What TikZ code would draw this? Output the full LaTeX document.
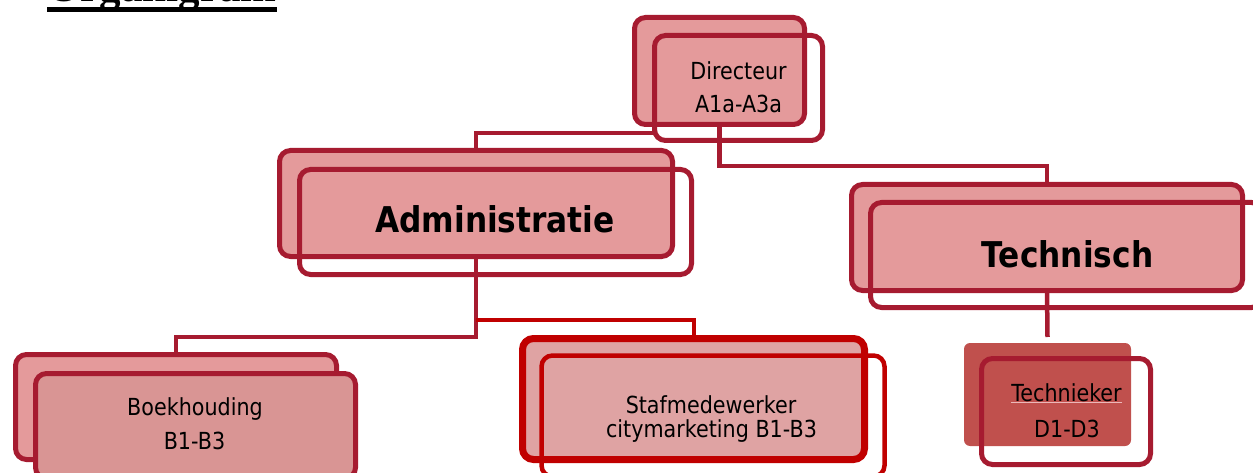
\documentclass[tikz,border=0pt]{standalone}
\usepackage{fontspec}
\setmainfont{DejaVu Sans}[FakeStretch=0.88]
\newfontfamily\titlefont{Liberation Serif}
\usetikzlibrary{calc}
\definecolor{crim}{RGB}{166,27,48}
\definecolor{pinkA}{RGB}{228,154,155}
\definecolor{pinkB}{RGB}{217,149,148}
\definecolor{pinkC}{RGB}{223,163,163}
\definecolor{redS}{RGB}{192,0,0}
\definecolor{tkfill}{RGB}{192,80,77}
\begin{document}
\begin{tikzpicture}[x=1pt,y=-1pt,
  box/.style={rectangle, rounded corners=11pt, draw=crim, line width=5pt, outer sep=0pt, inner sep=0pt},
  conn/.style={draw=crim, line width=4.5pt},
  connred/.style={draw=redS, line width=4pt},
  txt/.style={anchor=base, inner sep=0pt, font=\fontsize{23.5}{28}\selectfont},
  txtbig/.style={anchor=base, inner sep=0pt, font=\bfseries\fontsize{35.5}{42}\selectfont}]
\useasboundingbox (0,0) rectangle (1253,473);
\clip (0,0) rectangle (1253,473);
% title
\node[anchor=base west, inner sep=0pt, font=\titlefont\bfseries\fontsize{43}{50}\selectfont] (title) at (47,2) {Organigram};
\draw[line width=4.5pt] ([yshift=-7.5pt]title.base west) -- ([yshift=-7.5pt]title.base east);
% boxes
\node[box, fill=pinkA, minimum width=170pt, minimum height=107pt] (dirB) at (719.5,71) {};
\node[box, minimum width=168pt, minimum height=105pt] (dirF) at (738.5,88) {};
\node[box, fill=pinkA, minimum width=393pt, minimum height=106pt] (admB) at (476,203.5) {};
\node[box, minimum width=392pt, minimum height=105pt] (admF) at (495.5,222) {};
\node[box, fill=pinkA, minimum width=391pt, minimum height=106pt] (tecB) at (1047,237.5) {};
\node[box, minimum width=392pt, minimum height=105pt] (tecF) at (1066.5,255) {};
\node[box, fill=pinkA, minimum width=321pt, minimum height=105pt] (boeB) at (176,407) {};
\node[box, fill=pinkB, minimum width=320pt, minimum height=105pt] (boeF) at (195.5,426) {};
\node[box, draw=redS, line width=7pt, fill=pinkC, minimum width=342pt, minimum height=121pt] (stfB) at (693.5,399) {};
\node[box, draw=redS, line width=4.5pt, minimum width=343pt, minimum height=121pt] (stfF) at (713,416) {};
\node[rectangle, rounded corners=6pt, fill=tkfill, minimum width=167pt, minimum height=103pt, inner sep=0pt, outer sep=0pt] (tkB) at (1047.5,394.5) {};
\node[box, minimum width=169pt, minimum height=106pt] (tkF) at (1066,411.5) {};
% helper coordinates
\coordinate (y133) at (0,133);
\coordinate (y166) at (0,166);
\coordinate (y320) at (0,320);
\coordinate (y337) at (0,337);
% connectors
\draw[conn] (dirB.south) |- (tecB.north |- y166) -- (tecB.north);
\draw[conn] (admB.north) |- (dirF.west |- y133);
\draw[conn] (admB.south) |- (boeB.north |- y337) -- (boeB.north);
\draw[connred] (admB.south |- y320) -| (stfB.north);
\draw[conn] (tecB.south) -- ($(tkB.north)+(0,-6)$);
% texts
\node[txt] (dirT1) at (738.5,80) {Directeur};
\node[txt] (dirT2) at (738.5,113) {A1a-A3a};
\node[txtbig] (admT) at (495,233) {Administratie};
\node[txtbig] (tecT) at (1067.5,267) {Technisch};
\node[txt] (boeT1) at (195,415) {Boekhouding};
\node[txt] (boeT2) at (194.5,449) {B1-B3};
\node[txt] (stfT1) at (711,413) {Stafmedewerker};
\node[txt] (stfT2) at (711.5,437) {citymarketing B1-B3};
\node[txt] (tkT1) at (1066.5,401) {Technieker};
\node[txt] (tkT2) at (1067,437) {D1-D3};
\draw[line width=1pt, draw=pinkA!70!white] ([yshift=-1.5pt]tkT1.base west) -- ([yshift=-1.5pt]tkT1.base east);
\end{tikzpicture}
\end{document}
